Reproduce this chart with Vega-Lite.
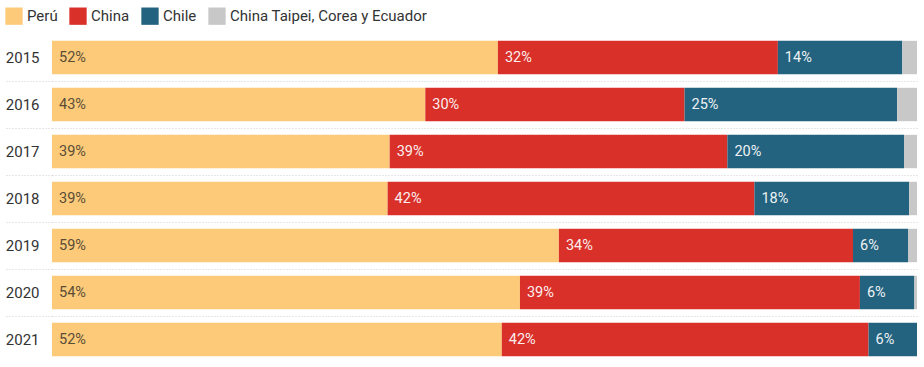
{
  "$schema": "https://vega.github.io/schema/vega-lite/v6.json",
  "width": 865,
  "height": 329,
  "autosize": {"type": "none"},
  "padding": {"left": 52, "top": 34, "right": 7, "bottom": 4},
  "background": "white",
  "config": {
    "font": "Roboto",
    "view": {"stroke": null}
  },
  "data": {
    "values": [
      {"year": "2015", "pais": "Perú", "orden": 1, "share": 0.516},
      {"year": "2015", "pais": "China", "orden": 2, "share": 0.324},
      {"year": "2015", "pais": "Chile", "orden": 3, "share": 0.144},
      {"year": "2015", "pais": "China Taipei, Corea y Ecuador", "orden": 4, "share": 0.017},
      {"year": "2016", "pais": "Perú", "orden": 1, "share": 0.432},
      {"year": "2016", "pais": "China", "orden": 2, "share": 0.300},
      {"year": "2016", "pais": "Chile", "orden": 3, "share": 0.246},
      {"year": "2016", "pais": "China Taipei, Corea y Ecuador", "orden": 4, "share": 0.023},
      {"year": "2017", "pais": "Perú", "orden": 1, "share": 0.390},
      {"year": "2017", "pais": "China", "orden": 2, "share": 0.390},
      {"year": "2017", "pais": "Chile", "orden": 3, "share": 0.204},
      {"year": "2017", "pais": "China Taipei, Corea y Ecuador", "orden": 4, "share": 0.015},
      {"year": "2018", "pais": "Perú", "orden": 1, "share": 0.388},
      {"year": "2018", "pais": "China", "orden": 2, "share": 0.424},
      {"year": "2018", "pais": "Chile", "orden": 3, "share": 0.179},
      {"year": "2018", "pais": "China Taipei, Corea y Ecuador", "orden": 4, "share": 0.009},
      {"year": "2019", "pais": "Perú", "orden": 1, "share": 0.586},
      {"year": "2019", "pais": "China", "orden": 2, "share": 0.340},
      {"year": "2019", "pais": "Chile", "orden": 3, "share": 0.064},
      {"year": "2019", "pais": "China Taipei, Corea y Ecuador", "orden": 4, "share": 0.010},
      {"year": "2020", "pais": "Perú", "orden": 1, "share": 0.541},
      {"year": "2020", "pais": "China", "orden": 2, "share": 0.393},
      {"year": "2020", "pais": "Chile", "orden": 3, "share": 0.063},
      {"year": "2020", "pais": "China Taipei, Corea y Ecuador", "orden": 4, "share": 0.003},
      {"year": "2021", "pais": "Perú", "orden": 1, "share": 0.520},
      {"year": "2021", "pais": "China", "orden": 2, "share": 0.424},
      {"year": "2021", "pais": "Chile", "orden": 3, "share": 0.056},
      {"year": "2021", "pais": "China Taipei, Corea y Ecuador", "orden": 4, "share": 0.000}
    ]
  },
  "transform": [
    {"stack": "share", "groupby": ["year"], "sort": [{"field": "orden", "order": "ascending"}], "offset": "normalize", "as": ["x0", "x1"]}
  ],
  "encoding": {
    "y": {
      "field": "year",
      "type": "ordinal",
      "sort": "ascending",
      "scale": {"paddingInner": 0, "paddingOuter": 0},
      "axis": {
        "title": null,
        "domain": false,
        "ticks": true,
        "tickSize": 47,
        "tickBand": "extent",
        "tickColor": "#cfcfcf",
        "tickDash": [1, 2],
        "tickWidth": 1,
        "tickOpacity": {"condition": {"test": "datum.index < 0 || datum.value == '2021'", "value": 0}, "value": 1},
        "grid": true,
        "gridColor": "#cfcfcf",
        "gridDash": [1, 2],
        "gridWidth": 1,
        "gridOpacity": {"condition": {"test": "datum.index < 0 || datum.value == '2021'", "value": 0}, "value": 1},
        "labelPadding": -34,
        "labelFontSize": 15,
        "labelColor": "#333333",
        "labelFont": "Roboto"
      }
    }
  },
  "layer": [
    {
      "mark": {"type": "bar", "height": {"band": 0.71}},
      "encoding": {
        "x": {"field": "x0", "type": "quantitative", "scale": {"domain": [0, 1], "nice": false}, "axis": null},
        "x2": {"field": "x1"},
        "color": {
          "field": "pais",
          "type": "nominal",
          "sort": ["Perú", "China", "Chile", "China Taipei, Corea y Ecuador"],
          "scale": {
            "domain": ["Perú", "China", "Chile", "China Taipei, Corea y Ecuador"],
            "range": ["#fdca7a", "#d9302a", "#24637f", "#c8c8c8"]
          },
          "legend": {
            "title": null,
            "orient": "none",
            "direction": "horizontal",
            "legendX": -47,
            "legendY": -27,
            "symbolType": "square",
            "symbolSize": 300,
            "symbolStrokeWidth": 0,
            "symbolOpacity": 1,
            "labelFontSize": 15,
            "labelFont": "Roboto",
            "labelColor": "#333333",
            "labelLimit": 0,
            "labelOffset": 4,
            "columnPadding": 11,
            "padding": 0
          }
        }
      }
    },
    {
      "transform": [{"filter": "datum.orden == 1"}],
      "mark": {"type": "text", "align": "left", "baseline": "middle", "dx": 7, "fontSize": 14.5, "font": "Roboto", "color": "#5a4d36"},
      "encoding": {
        "x": {"field": "x0", "type": "quantitative"},
        "text": {"field": "share", "type": "quantitative", "format": ".0%"}
      }
    },
    {
      "transform": [{"filter": "datum.orden == 2 || datum.orden == 3"}],
      "mark": {"type": "text", "align": "left", "baseline": "middle", "dx": 7, "fontSize": 14.5, "font": "Roboto", "color": "#ffffff", "opacity": 0.92},
      "encoding": {
        "x": {"field": "x0", "type": "quantitative"},
        "text": {"field": "share", "type": "quantitative", "format": ".0%"}
      }
    }
  ]
}
